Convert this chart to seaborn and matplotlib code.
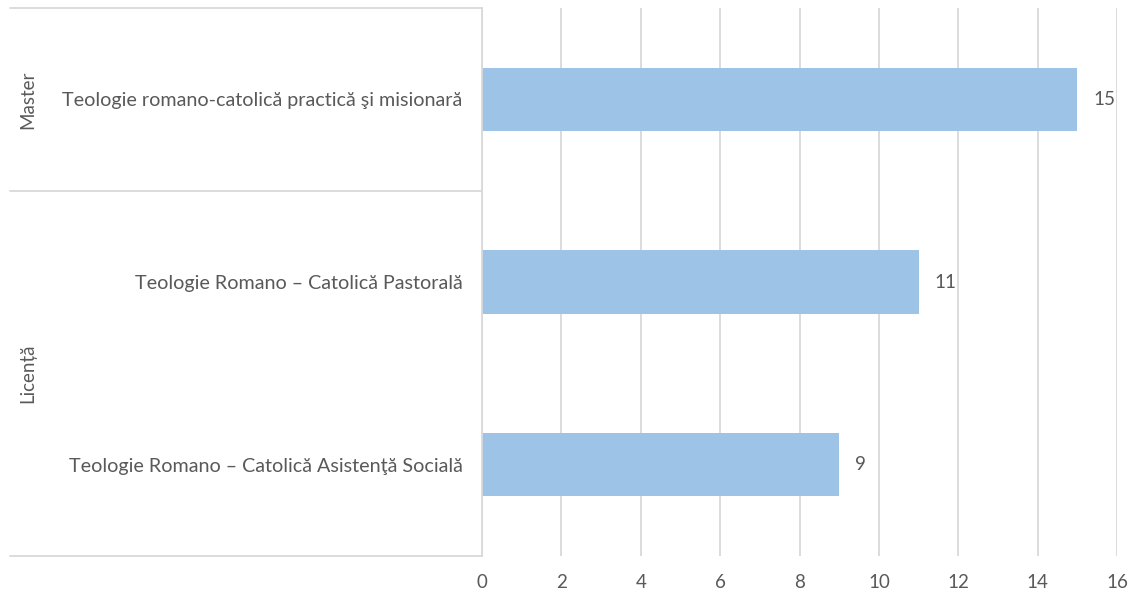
import matplotlib
matplotlib.use('Agg')
import matplotlib.pyplot as plt
import matplotlib.transforms as mtransforms
import seaborn as sns
import pandas as pd

groups = ['Master', 'Licență', 'Licență']
programs = [
    'Teologie romano-catolică practică şi misionară',
    'Teologie Romano – Catolică Pastorală',
    'Teologie Romano – Catolică Asistenţă Socială',
]
students = [15, 11, 9]
x_ticks = [0, 2, 4, 6, 8, 10, 12, 14, 16]

TEXT = '#595959'
GRID = '#D9D9D9'
BAR = '#9DC3E6'

sns.set_style('white')
plt.rcParams['font.family'] = ['Lato', 'DejaVu Sans']

df = pd.DataFrame({'group': groups, 'program': programs, 'students': students})

fig = plt.figure(figsize=(11.37, 5.98), dpi=100)
ax = fig.add_axes([482 / 1137, 1 - 556 / 598, (1117 - 482) / 1137, (556 - 8) / 598])

sns.barplot(data=df, y='program', x='students', orient='h', color=BAR,
            width=0.345, saturation=1, linewidth=0, ax=ax)

ax.set_xlim(0, 16)
ax.set_ylim(2.5, -0.5)
ax.set_xticks(x_ticks)
ax.set_xticklabels([str(t) for t in x_ticks])
ax.tick_params(axis='x', length=0, pad=13, labelsize=13.5, labelcolor=TEXT)
ax.tick_params(axis='y', length=0, pad=14, labelsize=14.2, labelcolor=TEXT)
ax.xaxis.grid(True, color=GRID, linewidth=1.3)
ax.set_axisbelow(True)
ax.set_xlabel('')
ax.set_ylabel('')
for s in ['top', 'right', 'bottom']:
    ax.spines[s].set_visible(False)
ax.spines['left'].set_color(GRID)
ax.spines['left'].set_linewidth(1.3)

for p, v in zip(ax.patches, students):
    ax.annotate(str(v), (v, p.get_y() + p.get_height() / 2), xytext=(16, 0),
                textcoords='offset pixels',
                va='center', ha='left', fontsize=13.5, color=TEXT)

# group separators and group labels on the left
trans = mtransforms.blended_transform_factory(ax.transAxes, ax.transData)
left = (10 - 482) / (1117 - 482)
for yb in [-0.5, 0.5, 2.5]:
    ax.plot([left, 0], [yb, yb], color=GRID, linewidth=1.3, transform=trans,
            clip_on=False)

gx = (28 - 482) / (1117 - 482)
seen = []
for g in groups:
    if g in seen:
        continue
    seen.append(g)
    idx = [j for j, h in enumerate(groups) if h == g]
    yc = (idx[0] + idx[-1]) / 2
    ax.text(gx, yc, g, rotation=90, ha='center', va='center', fontsize=13.5,
            color=TEXT, transform=trans)

fig.savefig('out.png', dpi=100)
